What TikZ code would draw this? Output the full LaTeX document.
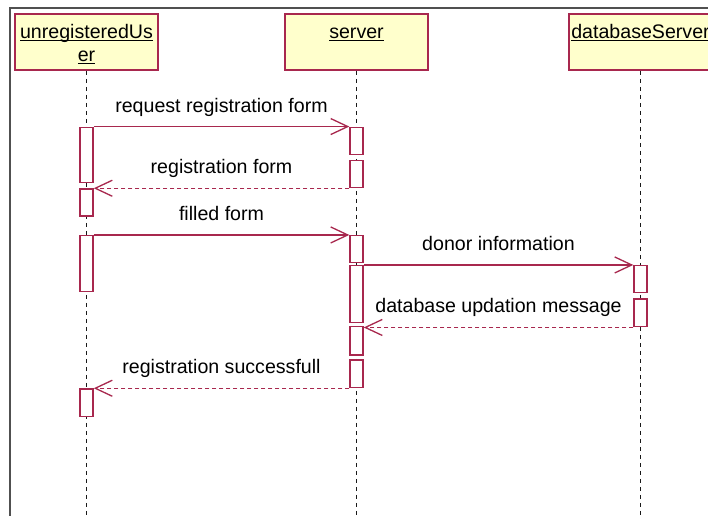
\documentclass[tikz,border=0pt]{standalone}
\usepackage{fontspec}
\setmainfont{Liberation Sans}
\usetikzlibrary{arrows.meta}
\definecolor{umlred}{RGB}{168,40,78}
\definecolor{umlfill}{RGB}{255,255,204}
\definecolor{framegray}{RGB}{80,80,80}
% underlined object name
\newcommand\ulword[1]{\setbox0=\hbox{#1}\rlap{\rule[-2.6pt]{\wd0}{1.1pt}}\box0}
% activation bar: name, x, top, bottom
\newcommand\actbar[4]{\node[actbar, minimum height={#4-#3}] (#1) at (#2,{(#3+#4)/2}) {};}

\begin{document}
\begin{tikzpicture}[x=1pt,y=-1pt,
  font=\fontsize{19.6}{23}\selectfont,
  head/.style={draw=umlred, fill=umlfill, line width=1.6pt,
    minimum width=143pt, minimum height=56pt, inner sep=0pt},
  actbar/.style={draw=umlred, fill=white, line width=1.5pt,
    minimum width=13pt, inner sep=0pt},
  lifeline/.style={draw=black!90, line width=1.6pt, dash pattern=on 4.5pt off 3.5pt},
  msg/.style={draw=umlred, line width=1.4pt,
    -{Straight Barb[length=17pt,width=16pt,line width=1.3pt]}},
  reply/.style={msg, dash pattern=on 4pt off 3pt},
  lbl/.style={anchor=base, yshift=14.5pt, inner sep=0pt, text=black}]
\useasboundingbox (0,0) rectangle (708,515);
\fill[white] (0,0) rectangle (708,515);

% diagram frame
\draw[framegray, line width=2pt] (10,520) -- (10,8) -- (720,8);

% objects
\node[head] (uh) at (86.5,42) {};
\node[head] (sh) at (356.5,42) {};
\node[head] (dh) at (640.5,42) {};
\node[anchor=base, inner sep=0pt] at (86.5,38) {\ulword{unregisteredUs}};
\node[anchor=base, inner sep=0pt] at (86.5,61) {\ulword{er}};
\node[anchor=base, inner sep=0pt] at (356.5,38) {\ulword{server}};
\node[anchor=base, inner sep=0pt] at (640.5,38) {\ulword{databaseServer}};

% lifelines
\draw[lifeline] (uh.south) -- (uh.south |- 0,520);
\draw[lifeline] (sh.south) -- (sh.south |- 0,520);
\draw[lifeline] (dh.south) -- (dh.south |- 0,520);

% activation bars
\actbar{u1}{86.5}{127.3}{182.7}
\actbar{u2}{86.5}{189}{216}
\actbar{u3}{86.5}{235.7}{291.7}
\actbar{u4}{86.5}{389}{416.7}
\actbar{s1}{356.5}{127.3}{154.3}
\actbar{s2}{356.5}{160.3}{187.3}
\actbar{s3}{356.5}{235.7}{262.7}
\actbar{s4}{356.5}{265.7}{322.7}
\actbar{s5}{356.5}{326.7}{355}
\actbar{s6}{356.5}{360}{387.7}
\actbar{d1}{640.5}{265.7}{292.7}
\actbar{d2}{640.5}{299}{326.7}

% messages
\draw[msg] (u1.north east) -- node[lbl]{request registration form} (s1.north west);
\draw[reply] (u2.north east -| s2.west) -- node[lbl]{registration form} (u2.north east);
\draw[msg] (u3.north east) -- node[lbl]{filled form} (s3.north west);
\draw[msg] (s4.north east) -- node[lbl]{donor information} (d1.north west);
\draw[reply] (d2.south west) -- node[lbl]{database updation message} (d2.south west -| s5.east);
\draw[reply] (u4.north east -| s6.west) -- node[lbl]{registration successfull} (u4.north east);
\end{tikzpicture}
\end{document}
